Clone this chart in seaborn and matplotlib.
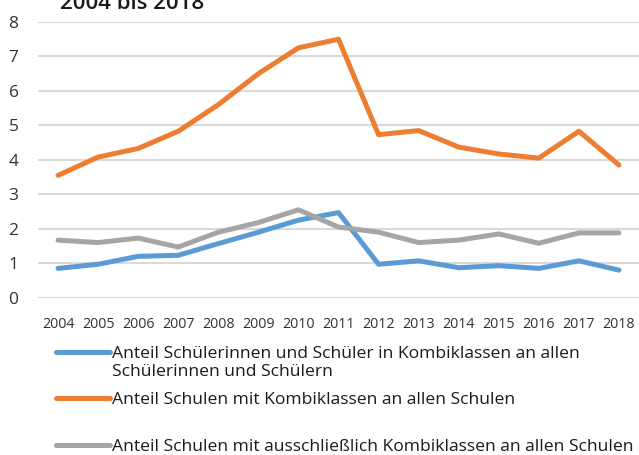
import pandas as pd
import matplotlib.pyplot as plt
import seaborn as sns
from matplotlib.lines import Line2D

# --- Data ---
years = [2004, 2005, 2006, 2007, 2008, 2009, 2010, 2011, 2012, 2013, 2014, 2015, 2016, 2017, 2018]
anteil_schueler = [0.85, 0.97, 1.20, 1.23, 1.57, 1.90, 2.25, 2.47, 0.97, 1.07, 0.87, 0.93, 0.85, 1.07, 0.80]
anteil_schulen = [3.55, 4.08, 4.33, 4.83, 5.60, 6.50, 7.25, 7.50, 4.73, 4.85, 4.37, 4.17, 4.05, 4.83, 3.85]
anteil_ausschl = [1.67, 1.60, 1.73, 1.47, 1.90, 2.18, 2.55, 2.05, 1.90, 1.60, 1.67, 1.85, 1.58, 1.88, 1.88]

series_names = [
    "Anteil Schülerinnen und Schüler in Kombiklassen an allen\nSchülerinnen und Schülern",
    "Anteil Schulen mit Kombiklassen an allen Schulen",
    "Anteil Schulen mit ausschließlich Kombiklassen an allen Schulen",
]
colors = ["#5B9BD5", "#ED7D31", "#A5A5A5"]

df = pd.DataFrame({
    "pos": list(range(len(years))) * 3,
    "value": anteil_schueler + anteil_schulen + anteil_ausschl,
    "series": [series_names[0]] * len(years) + [series_names[1]] * len(years) + [series_names[2]] * len(years),
})

sns.set_style("white")
plt.rcParams['font.family'] = ['Open Sans', 'DejaVu Sans']

fig = plt.figure(figsize=(6.39, 4.55), dpi=100)
ax = fig.add_axes([38 / 639, 1 - 297.7 / 455, 601 / 639, (297.7 - 22) / 455])

sns.lineplot(data=df, x="pos", y="value", hue="series", palette=colors,
             hue_order=series_names, linewidth=3.6, legend=False, ax=ax)

ax.set_xlim(-0.5, len(years) - 0.5)
ax.set_ylim(0, 8)
ax.set_yticks(range(0, 9))
ax.set_xticks(range(len(years)))
ax.set_xticklabels([str(y) for y in years])
ax.tick_params(axis='y', labelsize=12.5, colors='#333333', length=0, pad=14)
ax.tick_params(axis='x', labelsize=10.3, colors='#333333', length=0, pad=14)
ax.grid(axis='y', color='#D9D9D9', linewidth=1.5)
ax.set_axisbelow(True)
ax.set_xlabel("")
ax.set_ylabel("")
for s in ax.spines.values():
    s.set_visible(False)

# --- Title (cut off at the top in the reference) ---
fig.text(60 / 639, 1 - 9 / 455, "2004 bis 2018", fontsize=16, fontweight='semibold',
         color='#1a1a1a', va='baseline', ha='left')

# --- Legend, Excel style ---
legend_rows = [352, 398, 445]
for name, col, yrow in zip(series_names, colors, legend_rows):
    yf = 1 - yrow / 455
    fig.add_artist(Line2D([56 / 639, 110 / 639], [yf, yf], color=col, linewidth=3.6,
                          solid_capstyle='round', transform=fig.transFigure))
    # first text line centred on the handle
    fig.text(112 / 639, yf + 6 / 455, name, fontsize=12.6, color='#1a1a1a',
             va='top', ha='left', linespacing=1.15, transform=fig.transFigure)

fig.savefig("out.png", dpi=100)
